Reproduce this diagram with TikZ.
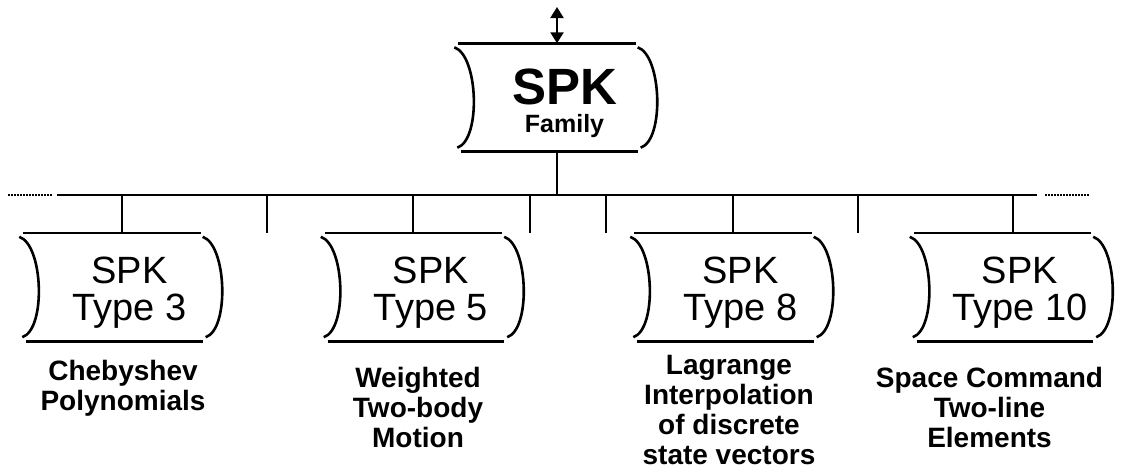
\documentclass[tikz,border=0pt]{standalone}
\usepackage{fontspec}
\setmainfont{Liberation Sans}
\usetikzlibrary{positioning,arrows.meta}

% strut that pushes the two text lines down inside a drum
\newcommand{\drumtop}[1]{\rule{0pt}{#1}}

\begin{document}
\begin{tikzpicture}[x=1pt, y=-1pt,
    drum/.style={rectangle, inner sep=0pt, minimum width=182pt, minimum height=108pt, align=center,
      font=\fontsize{38}{37}\selectfont},
    rim/.style={line width=2.6pt},
    link/.style={line width=2pt},
    dots/.style={line width=1.5pt, dash pattern=on 1.5pt off 1.5pt},
    note/.style={inner sep=0pt, align=center, font=\bfseries\fontsize{28}{30}\selectfont},
    tip/.style={{Triangle[length=11pt,width=13pt]}-{Triangle[length=11pt,width=13pt]}}]

    \useasboundingbox (0,0) rectangle (1124,474);

    % Nodes
    \node [drum, font=\bfseries\fontsize{25}{28}\selectfont] (family) at (564.5,97.5) {\drumtop{47pt}{\fontsize{51}{51}\selectfont SPK}\\Family};

    \node [drum] (t3) at (129.5,287) {\drumtop{38pt}SPK\\Type 3};
    \node [drum] (t5) at (431,287) {\drumtop{38pt}SPK\\Type 5};
    \node [drum] (t8) at (740.5,287) {\drumtop{38pt}SPK\\Type 8};
    \node [drum] (t10) at (1020,287) {\drumtop{38pt}SPK\\Type 10};

    % Descriptions
    \node [note, below=19pt of t3.south, xshift=-6.5pt] (d3) {Chebyshev\\Polynomials};
    \node [note, below=26pt of t5.south, xshift=-13pt] (d5) {Weighted\\Two-body\\Motion};
    \node [note, below=14pt of t8.south, xshift=-11.5pt] (d8) {Lagrange\\Interpolation\\of discrete\\state vectors};
    \node [note, below=26pt of t10.south, xshift=-30.5pt] (d10) {Space Command\\Two-line\\Elements};

    % Drum outlines
    \foreach \n in {family,t3,t5,t8,t10} {
      \draw [rim] ([xshift=-15pt]\n.north west) -- ([xshift=-20pt]\n.north east);
      \draw [rim] ([xshift=-12pt]\n.south west) -- ([xshift=-18pt]\n.south east);
      \draw [rim] ([xshift=-19pt,yshift=-4pt]\n.north west) .. controls +(24,8) and +(24,-8) .. ([xshift=-16pt,yshift=4pt]\n.south west);
      \draw [rim] ([xshift=-18pt,yshift=-4pt]\n.north east) .. controls +(24,8) and +(24,-8) .. ([xshift=-15pt,yshift=4pt]\n.south east);
    }

    % Bus
    \coordinate (busL) at (57,195);
    \coordinate (busR) at (1037,195);
    \coordinate (dotL) at (8,195);
    \coordinate (dotR) at (1089,195);
    \draw [link] (busL) -- (busR);
    \draw [dots] (dotL) -- ([xshift=-5pt]busL);
    \draw [dots] ([xshift=8pt]busR) -- (dotR);

    % Drops
    \draw [link] ([xshift=-7.5pt]family.south) -- ([xshift=-7.5pt]family.south |- busL);
    \draw [link] ([xshift=-7.5pt]t3.north |- busL) -- ([xshift=-7.5pt]t3.north);
    \draw [link] ([xshift=-18pt]t5.north |- busL) -- ([xshift=-18pt]t5.north);
    \draw [link] ([xshift=-7.5pt]t8.north |- busL) -- ([xshift=-7.5pt]t8.north);
    \draw [link] ([xshift=-7pt]t10.north |- busL) -- ([xshift=-7pt]t10.north);

    % Open stubs
    \foreach \x [count=\i] in {267,530,606,858} {
      \coordinate (s\i) at (\x,233);
      \draw [link] (s\i |- busL) -- (s\i);
    }

    % Interface arrow
    \coordinate (io) at (557,7);
    \draw [link, tip] (io) -- ([xshift=-7.5pt]family.north);

\end{tikzpicture}
\end{document}
